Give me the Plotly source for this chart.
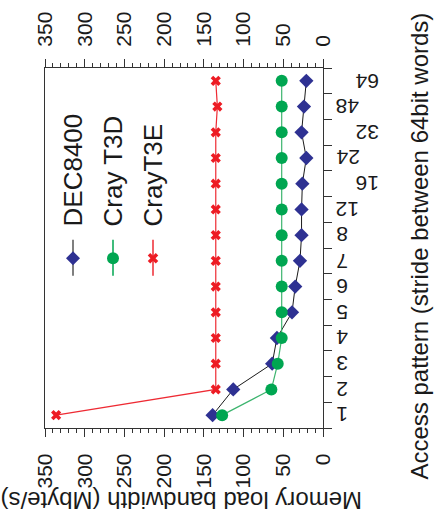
import plotly.graph_objects as go

categories = ['1', '2', '3', '4', '5', '6', '7', '8', '12', '16', '24', '32', '48', '64']
dec8400 = [139, 113, 64, 58, 39, 35, 29, 27, 27, 26, 21, 27, 24, 21]
cray_t3d = [127, 65, 57, 52, 52, 52, 52, 52, 52, 52, 52, 52, 52, 52]
cray_t3e = [336, 135, 135, 135, 135, 135, 135, 135, 135, 135, 135, 135, 133, 135]
value_ticks = [0, 50, 100, 150, 200, 250, 300, 350]

FONT = "Liberation Sans, Arial, sans-serif"
W, H = 434, 525
L, R, T, B = 45, 111, 59, 97
PW, PH = W - L - R, H - T - B


def px_x(x):
    return (x - L) / PW


def px_y(y):
    return (H - B - y) / PH


fig = go.Figure()
fig.add_trace(go.Scatter(x=dec8400, y=categories, mode='lines+markers', name='DEC8400',
                         line=dict(color='#1a1a1a', width=1),
                         marker=dict(symbol='diamond', size=11, color='#2e3192')))
fig.add_trace(go.Scatter(x=cray_t3d, y=categories, mode='lines+markers', name='Cray T3D',
                         line=dict(color='#3cb46e', width=1.2),
                         marker=dict(symbol='circle', size=12, color='#00a651')))
fig.add_trace(go.Scatter(x=cray_t3e, y=categories, mode='lines+markers', name='CrayT3E',
                         line=dict(color='#ee2a33', width=1.2),
                         marker=dict(symbol='x', size=9, color='#ed1c24')))
# invisible trace to activate top axis
fig.add_trace(go.Scatter(x=[0], y=[categories[0]], xaxis='x2', mode='markers',
                         marker=dict(opacity=0), showlegend=False, hoverinfo='skip'))

xcommon = dict(range=[350, 0], tickvals=value_ticks, ticks='outside', ticklen=8,
               tickwidth=1, tickcolor='#333', showline=True, linecolor='#333', linewidth=1.2,
               showgrid=False, zeroline=False, tickangle=-90, ticklabelstandoff=8,
               tickfont=dict(family=FONT, size=21, color='#1a1a1a'),
               minor=dict(dtick=10, ticks='outside', ticklen=4, tickcolor='#333', showgrid=False))

fig.update_layout(
    width=W, height=H, margin=dict(l=L, r=R, t=T, b=B),
    paper_bgcolor='white', plot_bgcolor='white', showlegend=False,
    xaxis=dict(**xcommon, side='bottom', anchor='y'),
    xaxis2=dict(**xcommon, side='top', overlaying='x', matches='x', anchor='y'),
    yaxis=dict(type='category', categoryarray=categories, range=[-0.5, len(categories) - 0.5],
               side='right', showticklabels=False, ticks='outside', ticklen=8, tickcolor='#333',
               tickson='boundaries', showline=True, mirror=True, linecolor='#333',
               linewidth=1.2, showgrid=False, zeroline=False),
)

annotations = []
# category tick labels (upside down, staggered) placed at category index on the y axis
for i, c in enumerate(categories):
    close = len(c) == 1 or i % 2 == 0
    annotations.append(dict(x=1, xref='paper', y=i, yref='y', text=c, showarrow=False,
                            textangle=180, xanchor='left' if close else 'right',
                            yanchor='middle', xshift=11 if close else 58,
                            font=dict(family=FONT, size=21, color='#1a1a1a')))

# axis titles
annotations.append(dict(x=1, xref='paper', y=px_y(242), yref='paper', xshift=97,
                        text='Access pattern (stride between 64bit words)', showarrow=False,
                        textangle=-90, xanchor='center', yanchor='middle',
                        font=dict(family=FONT, size=24, color='#1a1a1a')))
annotations.append(dict(x=px_x(182), xref='paper', y=0, yref='paper', yshift=-73,
                        text='Memory load bandwidth (Mbyte/s)', showarrow=False,
                        textangle=180, xanchor='center', yanchor='middle',
                        font=dict(family=FONT, size=24, color='#1a1a1a')))

# manual rotated legend
legend_items = [
    ('DEC8400', 73, '#555555', 'diamond', '#2e3192'),
    ('Cray T3D', 113, '#00a651', 'circle', '#00a651'),
    ('CrayT3E', 153, '#ee2a33', 'x', '#ed1c24'),
]
shapes = []
for name, lx, lcol, sym, mcol in legend_items:
    annotations.append(dict(x=px_x(lx), xref='paper', y=px_y(224), yref='paper', text=name,
                            showarrow=False, textangle=-90, xanchor='center', yanchor='bottom',
                            font=dict(family=FONT, size=26, color='#1a1a1a')))
    shapes.append(dict(type='line', xref='paper', yref='paper', x0=px_x(lx), x1=px_x(lx),
                       y0=px_y(235), y1=px_y(272), line=dict(color=lcol, width=1.5)))
    if sym == 'diamond':
        shapes.append(dict(type='path', xref='paper', yref='paper', xsizemode='pixel',
                           ysizemode='pixel', xanchor=px_x(lx), yanchor=px_y(254),
                           path='M 0 7 L 7 0 L 0 -7 L -7 0 Z', fillcolor=mcol,
                           line=dict(width=0)))
    elif sym == 'circle':
        shapes.append(dict(type='circle', xref='paper', yref='paper', xsizemode='pixel',
                           ysizemode='pixel', xanchor=px_x(lx), yanchor=px_y(254),
                           x0=-6, x1=6, y0=-6, y1=6, fillcolor=mcol, line=dict(width=0)))
    else:
        for p in ('M -4 -4 L 4 4', 'M -4 4 L 4 -4'):
            shapes.append(dict(type='path', xref='paper', yref='paper', xsizemode='pixel',
                               ysizemode='pixel', xanchor=px_x(lx), yanchor=px_y(254),
                               path=p, line=dict(color=mcol, width=3.5)))

fig.update_layout(annotations=annotations, shapes=shapes)
fig.write_html('out.html')
